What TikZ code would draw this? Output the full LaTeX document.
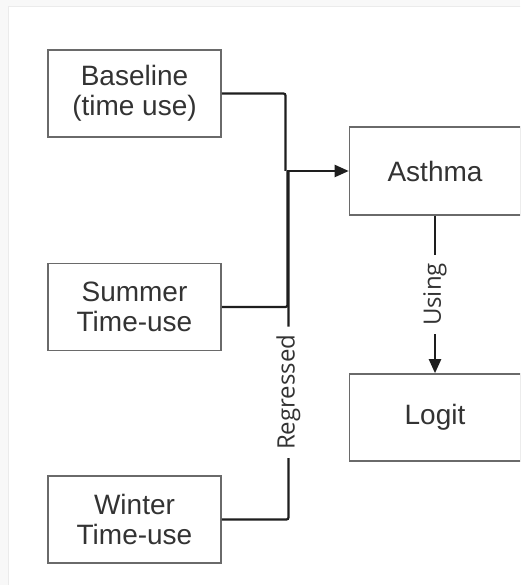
\documentclass[tikz,border=0pt]{standalone}
\usepackage{fontspec}
\setmainfont{Liberation Sans}
\newfontfamily\labelfont{Open Sans}
\usetikzlibrary{arrows.meta}
\definecolor{boxgray}{HTML}{6A6A6A}
\definecolor{linkgray}{HTML}{1E1E1E}
\definecolor{textgray}{HTML}{333333}
\definecolor{pagegray}{HTML}{F8F8F8}
\definecolor{edgegray}{HTML}{EBEBEB}
\begin{document}
\begin{tikzpicture}[x=1pt,y=-1pt,
  box/.style={draw=boxgray, line width=1.6pt, fill=white,
    minimum width=173pt, minimum height=87pt, inner sep=0pt,
    align=center, text=textgray, font=\fontsize{28}{30.5}\selectfont},
  link/.style={draw=linkgray, line width=2.2pt, rounded corners=2pt},
  tip/.style={-{Triangle[length=14pt,width=12pt]}},
  lbl/.style={fill=white, rotate=90, inner xsep=8pt, inner ysep=2pt,
    text=textgray, font=\labelfont\fontsize{24}{27}\selectfont}
]
\useasboundingbox (0,0) rectangle (520,585);
\clip (0,0) rectangle (520,585);

% page background
\fill[pagegray] (0,0) rectangle (520,585);
\draw[edgegray, line width=1.2pt, fill=white] (8.5,6.5) rectangle (530,600);

% boxes
\node[box] (base)   at (134.5, 93.5) {Baseline\\(time use)};
\node[box] (summer) at (134.5,307)   {Summer\\Time-use};
\node[box] (winter) at (134.5,519.5) {Winter\\Time-use};
\node[box, minimum width=171pt, minimum height=88pt] (asthma) at (435,171) {Asthma};
\node[box, minimum width=171pt] (logit) at (435,417.5) {Logit};

% merge point in front of the outcome
\coordinate (j) at (287,171);

% predictors feeding the outcome
\draw[link] (base.east) -- (285.5,93.5) -- (285.5,171);
\draw[link] (summer.east) -- (287.5,307) -- (287.5,171);
\draw[link] (winter.east) -- (288.5,519.5)
  -- node[lbl, pos=0.365] {Regressed} (288.5,171);
\draw[link, tip, rounded corners=0pt] (j) -- (asthma.west);

% outcome to model
\draw[link, tip] (asthma.south) -- node[lbl] {Using} (logit.north);
\end{tikzpicture}
\end{document}
